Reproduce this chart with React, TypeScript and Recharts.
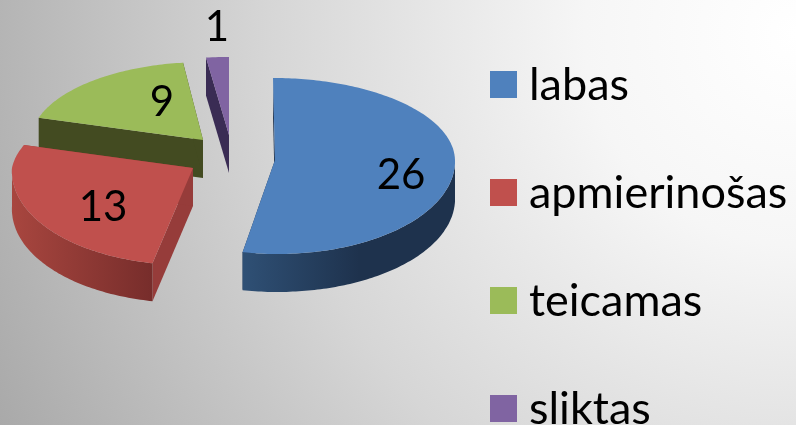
import { PieChart, Pie, Legend } from 'recharts'

const CATEGORIES = ['labas', 'apmierinošas', 'teicamas', 'sliktas']
const VALUES = [26, 13, 9, 1]
const COLORS = ['#4f81bd', '#c0504d', '#9bbb59', '#8064a2']

// side walls: radial wall colour, then outer wall gradient left -> right
const WALL = ['#1f3350', '#963c3a', '#434b21', '#3a2c54']
const WALL_LEFT = ['#2f5075', '#a8463f', '#434b21', '#3a2c54']
const WALL_RIGHT = ['#1e324d', '#772d2b', '#434b21', '#3a2c54']

// exploded offset and the fake perspective of each slice
const OFFSET_X = [0, -82, -72, -46]
const OFFSET_Y = [0, 8, -20, -25]
const RX = [180, 181, 172, 180]
const RY_TOP = [82, 81, 78, 78]
const RY_BOTTOM = [94, 97, 90, 90]
const SKEW = [2, -16, -2, 0]
const SKEW_LOW = [-2, 6, 0, 0]
const LABEL_X = [401, 103, 162, 217]
const LABEL_Y = [173, 205, 100, 25]

const W = 796
const H = 425
const DEPTH = 38
const FONT = 'Lato, "Open Sans", sans-serif'

// draw order is back to front, so the table runs from the last slice and the pie turns the other way
const table = CATEGORIES.map((name, i) => ({ name, value: VALUES[i], fill: COLORS[i] })).reverse()

function Slice3D(props: any) {
  const i = CATEGORIES.indexOf(props.name)
  const cx = props.cx + OFFSET_X[i]
  const cy = props.cy + OFFSET_Y[i]
  const lo = 90 - props.endAngle + 360
  const hi = 90 - props.startAngle + 360

  const pt = (deg: number, drop = 0): [number, number] => {
    const a = (deg * Math.PI) / 180
    const c = Math.cos(a)
    const x = cx + RX[i] * Math.sin(a) - (c > 0 ? SKEW[i] * c : -SKEW_LOW[i] * c)
    const y = cy - c * (c > 0 ? RY_TOP[i] : RY_BOTTOM[i]) + drop
    return [x, y]
  }
  const arc = (from: number, to: number, drop = 0) => {
    const out: [number, number][] = []
    for (let d = from; d < to; d += 1) out.push(pt(d, drop))
    out.push(pt(to, drop))
    return out
  }
  const path = (pts: [number, number][]) => 'M' + pts.map(p => `${p[0].toFixed(1)},${p[1].toFixed(1)}`).join('L') + 'Z'

  const apex: [number, number] = [cx, cy]
  const apexLow: [number, number] = [cx, cy + DEPTH]
  const gradId = `wall-${i}`
  const wallFrom = Math.max(lo, 90)
  const wallTo = Math.min(hi, 270)

  return (
    <g>
      <defs>
        <linearGradient id={gradId} x1="0" x2="1" y1="0" y2="0">
          <stop offset="0%" stopColor={WALL_LEFT[i]} />
          <stop offset={i === 0 ? '55%' : '100%'} stopColor={WALL_RIGHT[i]} />
          <stop offset="100%" stopColor={WALL_RIGHT[i]} />
        </linearGradient>
      </defs>
      <path d={path([apex, pt(lo), pt(lo, DEPTH), apexLow])} fill={WALL[i]} />
      <path d={path([apex, pt(hi), pt(hi, DEPTH), apexLow])} fill={WALL[i]} />
      {wallTo > wallFrom && (
        <path d={path([...arc(wallFrom, wallTo), ...arc(wallFrom, wallTo, DEPTH).reverse()])} fill={`url(#${gradId})`} />
      )}
      <path d={path([apex, ...arc(lo, hi)])} fill={props.fill} />
    </g>
  )
}

function renderLabel(props: any) {
  const i = CATEGORIES.indexOf(props.name)
  return (
    <text x={LABEL_X[i]} y={LABEL_Y[i]} textAnchor="middle" dominantBaseline="central" fontFamily={FONT} fontSize={42} fill="#000">
      {VALUES[i]}
    </text>
  )
}

function LegendList() {
  return (
    <div style={{ position: 'relative', width: W, height: H, fontFamily: FONT, fontSize: 45, color: '#000' }}>
      {CATEGORIES.map((c, i) => (
        <div key={c} style={{ position: 'absolute', left: 490, top: 71 + i * 108, height: 27 }}>
          <div style={{ position: 'absolute', left: 0, top: 0, width: 27, height: 27, background: COLORS[i] }} />
          <div style={{ position: 'absolute', left: 39, top: -6, lineHeight: '36px', whiteSpace: 'nowrap' }}>{c}</div>
        </div>
      ))}
    </div>
  )
}

export default function App() {
  return (
    <div
      style={{
        position: 'fixed',
        left: 0,
        top: 0,
        width: W,
        height: H,
        overflow: 'hidden',
        background: 'radial-gradient(circle 960px at 100% 8%, #ffffff 0%, #f6f6f6 22%, #d6d6d6 55%, #a0a0a0 100%)',
      }}
    >
      <PieChart width={W} height={H} margin={{ top: 0, right: 0, bottom: 0, left: 0 }}>
        <Pie
          data={table}
          dataKey="value"
          nameKey="name"
          cx={275}
          cy={160}
          innerRadius={0}
          outerRadius={180}
          startAngle={90}
          endAngle={450}
          stroke="none"
          shape={Slice3D}
          label={renderLabel}
          labelLine={false}
          isAnimationActive={false}
        />
        <Legend content={<LegendList />} wrapperStyle={{ left: 0, top: 0, width: W, height: H, bottom: 'auto' }} />
      </PieChart>
    </div>
  )
}
